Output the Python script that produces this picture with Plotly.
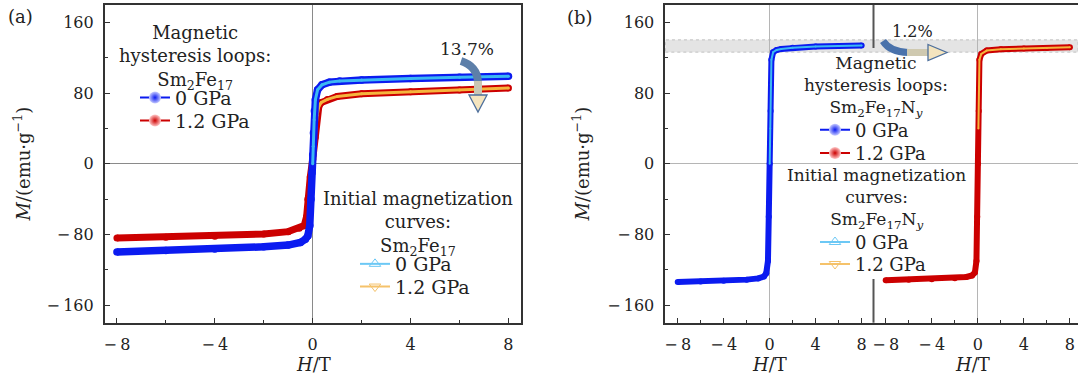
import plotly.graph_objects as go

# ---------------- data ----------------
# (a) Sm2Fe17 hysteresis loops
H_a_0 = [-8, -6, -4, -2, -1, -0.5, -0.3, -0.2, -0.12, -0.07, -0.03, 0.0, 0.03, 0.07, 0.11, 0.2, 0.38, 0.68, 1.1, 2, 4, 6, 8]
M_a_0 = [-99.9, -98.3, -96.5, -94.0, -92.0, -89.0, -85.5, -81.8, -70, -40, -10, 10, 35, 60, 72.6, 83.9, 89.6, 92.6, 94.0, 95.0, 96.8, 98.2, 99.4]
H_a_12 = [-8, -6, -4, -2, -1, -0.55, -0.35, -0.25, -0.2, -0.1, 0, 0.1, 0.18, 0.25, 0.35, 0.6, 1, 2, 4, 6, 8]
M_a_12 = [-84, -83.1, -82.1, -79.5, -76.8, -73, -70, -60, -40, -15, 5, 30, 55, 65, 69.5, 73, 76.4, 79.4, 81.7, 83.8, 85.9]
# (a) initial magnetization curves
Hi_a_0 = [0, 0.02, 0.06, 0.11, 0.2, 0.38, 0.68, 1.1, 2, 4, 6, 8]
Mi_a_0 = [0, 20, 50, 72.6, 83.9, 89.6, 92.6, 94.0, 95.0, 96.8, 98.2, 99.4]
Hi_a_12 = [0.1, 0.18, 0.25, 0.35, 0.6, 1, 2, 4, 6, 8]
Mi_a_12 = [30, 55, 65, 69.5, 73, 76.4, 79.4, 81.7, 83.8, 85.9]

# (b) Sm2Fe17Ny hysteresis loops
H_b_0 = [-8, -6, -4, -2, -1, -0.5, -0.3, -0.15, -0.08, 0, 0.08, 0.15, 0.3, 0.6, 1, 2, 4, 6, 8]
M_b_0 = [-133.8, -133.2, -132.6, -131.2, -129.8, -127.7, -124, -110, -60, 0, 60, 118, 126.5, 129, 130.2, 131.5, 132.9, 133.5, 134.0]
H_b_12 = [-8, -6, -4, -2, -1, -0.5, -0.25, -0.12, -0.05, 0.02, 0.08, 0.14, 0.3, 0.78, 2, 4, 6, 8]
M_b_12 = [-131.9, -131.3, -130.7, -129.6, -128.2, -126.5, -123, -110, -60, 0, 60, 118, 124.5, 128.4, 129.8, 130.6, 131.4, 132.2]
# (b) initial magnetization curves
Hi_b_0 = [0, 0.05, 0.1, 0.15, 0.3, 0.6, 1, 2, 4, 6, 8]
Mi_b_0 = [0, 40, 90, 118, 126.5, 129, 130.2, 131.5, 132.9, 133.5, 134.0]
Hi_b_12 = [0.05, 0.1, 0.14, 0.3, 0.78, 2, 4, 6, 8]
Mi_b_12 = [40, 85, 118, 124.5, 128.4, 129.8, 130.6, 131.4, 132.2]

band_b = [126.6, 140.5]   # grey saturation band in (b)

pressures = ["0 GPa", "1.2 GPa"]
x_ticks = [-8, -4, 0, 4, 8]
x_ticktext = ["\u2212\u20098", "\u2212\u20094", "0", "4", "8"]
y_ticks = [-160, -80, 0, 80, 160]
y_ticktext = ["\u2212\u2009160", "\u2212\u200980", "0", "80", "160"]

# ---------------- styling ----------------
W, Hh = 1078, 385
FONT = "DejaVu Serif"
TXT = "#222222"
BLUE = "#0b1bf0"
RED = "#cc0000"
CYAN = "#3cb8f2"
ORANGE = "#f5b53d"


def px(x):
    return x / W


def py(y):
    return 1 - y / Hh


fig = go.Figure()


def loop(x, y, color, w, xa, ya):
    fig.add_trace(go.Scatter(x=x, y=y, mode="lines+markers", xaxis=xa, yaxis=ya,
                             line=dict(color=color, width=w),
                             marker=dict(color=color, size=w),
                             showlegend=False, hoverinfo="skip"))


# panel (a)
loop(H_a_12, M_a_12, RED, 7, "x", "y")
loop(Hi_a_12, Mi_a_12, ORANGE, 3, "x", "y")
loop(H_a_0, M_a_0, BLUE, 7.5, "x", "y")
loop(Hi_a_0, Mi_a_0, CYAN, 3, "x", "y")
# panel (b)
loop(H_b_0, M_b_0, BLUE, 6, "x2", "y2")
loop(Hi_b_0, Mi_b_0, CYAN, 2, "x2", "y2")
loop(H_b_12, M_b_12, RED, 6, "x3", "y3")
loop(Hi_b_12, Mi_b_12, ORANGE, 2, "x3", "y3")


def leg(name, color, symbol, legend, light=None, size=12):
    mk = dict(symbol=symbol, size=size, color=color)
    if light:
        mk = dict(symbol=symbol, size=size, color=light,
                  gradient=dict(type="radial", color=color), line=dict(width=0))
    fig.add_trace(go.Scatter(x=[None], y=[None], mode="lines+markers", name=name,
                             line=dict(color=color, width=2), marker=mk,
                             legend=legend, xaxis="x", yaxis="y"))


leg(pressures[0], BLUE, "circle", "legend", light="#c8ccff")
leg(pressures[1], RED, "circle", "legend2", light="#ffc8c8")
leg(pressures[0], "#6cc8f5", "triangle-up-open", "legend3", size=10)
leg(pressures[1], "#f5c26a", "triangle-down-open", "legend4", size=10)
leg(pressures[0], BLUE, "circle", "legend5", light="#c8ccff")
leg(pressures[1], RED, "circle", "legend6", light="#ffc8c8")
leg(pressures[0], "#6cc8f5", "triangle-up-open", "legend7", size=10)
leg(pressures[1], "#f5c26a", "triangle-down-open", "legend8", size=10)

ydom = [py(322.7), py(5)]
common_x = dict(tickmode="array", tickvals=x_ticks, ticktext=x_ticktext,
                ticks="inside", ticklen=5, tickwidth=1.3, tickcolor="#333",
                minor=dict(ticks="inside", ticklen=3, dtick=2, tick0=0, tickcolor="#333", tickwidth=1.2),
                showline=True, linecolor="#333", linewidth=1.6, mirror=True,
                showgrid=False, zeroline=True, zerolinewidth=1.3,
                tickfont=dict(family=FONT, size=16, color=TXT), automargin=False,
                ticklabelstandoff=6)
common_y = dict(range=[-180, 180], tickmode="array", tickvals=y_ticks, ticktext=y_ticktext,
                ticks="inside", ticklen=5, tickwidth=1.3, tickcolor="#333",
                minor=dict(ticks="inside", ticklen=3, dtick=40, tick0=0, tickcolor="#333", tickwidth=1.2),
                showline=True, linecolor="#333", linewidth=1.6,
                showgrid=False, zeroline=True, zerolinewidth=1.3,
                tickfont=dict(family=FONT, size=16, color=TXT), automargin=False,
                ticklabelstandoff=6)

xa = dict(common_x); xa.update(domain=[px(104.7), px(520.7)], range=[-8.5, 8.5], zerolinecolor="#8a8a8a", anchor="y")
xb1 = dict(common_x); xb1.update(domain=[px(665.3), px(873.5)], range=[-9.08, 9.03], zerolinecolor="#b5b5b5", anchor="y2")
xb2 = dict(common_x); xb2.update(domain=[px(873.5), 1.0], range=[-9.06, 8.7], zerolinecolor="#b5b5b5", anchor="y3")
ya = dict(common_y); ya.update(domain=ydom, mirror=True, zerolinecolor="#8a8a8a", anchor="x")
yb1 = dict(common_y); yb1.update(domain=ydom, zerolinecolor="#b5b5b5", anchor="x2")
yb2 = dict(common_y); yb2.update(domain=ydom, zerolinecolor="#b5b5b5", anchor="x3",
                                 showline=False, ticks="", showticklabels=False,
                                 minor=dict(ticks=""))

legfont = dict(family=FONT, size=19, color=TXT)
legfont_b = dict(family=FONT, size=18, color=TXT)
legcommon = dict(bgcolor="rgba(0,0,0,0)", borderwidth=0, xanchor="left", yanchor="middle",
                 itemwidth=30, tracegroupgap=0, itemclick=False, itemdoubleclick=False)

# legend rows: (x of line start, y of row centre)
fig.update_layout(
    width=W, height=Hh, margin=dict(l=0, r=0, t=0, b=0),
    paper_bgcolor="white", plot_bgcolor="white",
    xaxis=xa, yaxis=ya, xaxis2=xb1, yaxis2=yb1, xaxis3=xb2, yaxis3=yb2,
    legend=dict(legcommon, x=px(139 - 4), y=py(97.7), font=legfont),
    legend2=dict(legcommon, x=px(139 - 4), y=py(120.7), font=legfont),
    legend3=dict(legcommon, x=px(359 - 4), y=py(264), font=legfont),
    legend4=dict(legcommon, x=px(359 - 4), y=py(286.7), font=legfont),
    legend5=dict(legcommon, x=px(819 - 4), y=py(130), font=legfont_b),
    legend6=dict(legcommon, x=px(819 - 4), y=py(153.3), font=legfont_b),
    legend7=dict(legcommon, x=px(819 - 4), y=py(242.3), font=legfont_b),
    legend8=dict(legcommon, x=px(819 - 4), y=py(264.3), font=legfont_b),
    showlegend=True,
)

# grey band in (b)
fig.add_shape(type="rect", xref="paper", yref="y2", x0=px(665.3), x1=1.0,
              y0=band_b[0], y1=band_b[1], fillcolor="#e0e0e0", opacity=0.85,
              line=dict(color="#b8b8b8", width=1, dash="dot"), layer="below")

# divider between the two sub-panels of (b)
for y0, y1 in [(5, 48), (279, 322.7)]:
    fig.add_shape(type="line", xref="paper", yref="paper", x0=px(873.5), x1=px(873.5),
                  y0=py(y0), y1=py(y1), line=dict(color="#555", width=2))


def path(points):
    s = ""
    for i, (x, y) in enumerate(points):
        s += ("M" if i == 0 else "L") + f"{px(x):.5f},{py(y):.5f} "
    return s


# curved arrow (a)
fig.add_shape(type="path", xref="paper", yref="paper",
              path=f"M{px(461):.5f},{py(61):.5f} Q{px(477):.5f},{py(66):.5f} {px(478):.5f},{py(82):.5f}",
              line=dict(color="#5d7fa9", width=8))
fig.add_shape(type="path", xref="paper", yref="paper",
              path=f"M{px(478):.5f},{py(81):.5f} L{px(478):.5f},{py(96):.5f}",
              line=dict(color="#c9c6b3", width=8))
fig.add_shape(type="path", xref="paper", yref="paper",
              path=path([(469, 95), (487, 95), (478, 112)]) + "Z",
              fillcolor="#f4e4be", line=dict(color="#4d6f9c", width=1.3))
# curved arrow (b)
fig.add_shape(type="path", xref="paper", yref="paper",
              path=f"M{px(883):.5f},{py(41):.5f} Q{px(890):.5f},{py(52):.5f} {px(908):.5f},{py(52.5):.5f}",
              line=dict(color="#4a72ab", width=7))
fig.add_shape(type="path", xref="paper", yref="paper",
              path=f"M{px(907):.5f},{py(52.5):.5f} L{px(929):.5f},{py(52.5):.5f}",
              line=dict(color="#cfc9b0", width=7))
fig.add_shape(type="path", xref="paper", yref="paper",
              path=path([(928, 44.5), (947, 52.5), (928, 60.5)]) + "Z",
              fillcolor="#f4e4be", line=dict(color="#4d6f9c", width=1.3))

ann = []


def txt(x, y, s, size=18, angle=0, xanchor="center", yanchor="middle"):
    ann.append(dict(x=px(x), y=py(y), xref="paper", yref="paper", text=s, showarrow=False,
                    textangle=angle, xanchor=xanchor, yanchor=yanchor,
                    font=dict(family=FONT, size=size, color=TXT)))


txt(20, 16, "(a)")
txt(580, 17, "(b)")
txt(466.7, 49.3, "13.7%", size=17)
txt(912, 31.7, "1.2%", size=16)
# axis titles
txt(313, 364, "<i>H</i>/T")
txt(769.4, 364, "<i>H</i>/T")
txt(972, 364, "<i>H</i>/T")
txt(22.5, 164, "<i>M</i>/(emu·g<sup>−1</sup>)", angle=-90)
txt(581.5, 164, "<i>M</i>/(emu·g<sup>−1</sup>)", angle=-90)
# legend titles
txt(195, 20, "Magnetic<br>hysteresis loops:<br>Sm<sub>2</sub>Fe<sub>17</sub>", yanchor="top")
txt(418, 186, "Initial magnetization<br>curves:<br>Sm<sub>2</sub>Fe<sub>17</sub>", yanchor="top")
txt(875.5, 51, "Magnetic<br>hysteresis loops:<br>Sm<sub>2</sub>Fe<sub>17</sub>N<sub><i>y</i></sub>", size=17, yanchor="top")
txt(876, 163, "Initial magnetization<br>curves:<br>Sm<sub>2</sub>Fe<sub>17</sub>N<sub><i>y</i></sub>", size=17, yanchor="top")
fig.update_layout(annotations=ann)

fig.write_html("out.html")
